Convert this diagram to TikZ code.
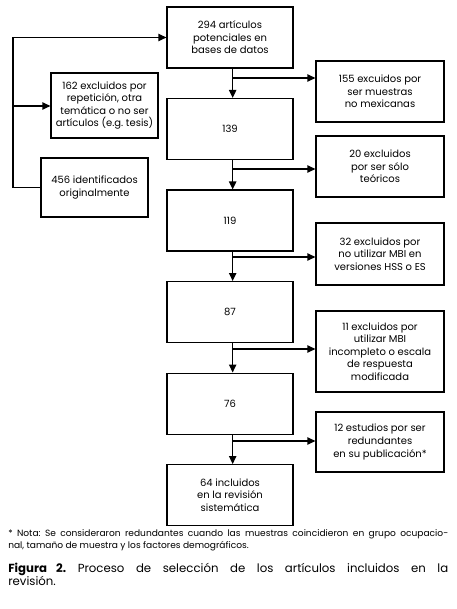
\documentclass[tikz,border=0pt]{standalone}
\usepackage{fontspec}
\setmainfont{Poppins}
\usetikzlibrary{arrows.meta,positioning}
\frenchspacing

\begin{document}
\begin{tikzpicture}[
  x=0.75pt,y=-0.75pt,
  node distance=22pt and 20pt,
  box/.style={draw,line width=0.9pt,minimum width=94.5pt,minimum height=45.75pt,align=center,font=\fontsize{7.5}{9.4}\selectfont,inner sep=2pt},
  side/.style={box,minimum width=96pt},
  lbox/.style={box,minimum width=80.25pt},
  arr/.style={-{Triangle[length=6pt,width=5.5pt]},line width=0.9pt},
  note/.style={anchor=north west,inner sep=0pt,text width=330pt,align=justify}]
  \useasboundingbox (0,0) rectangle (456,609);
  % main column
  \node[box] (n294) at (230,37.5) {294 artículos\\potenciales en\\bases de datos};
  \node[box,below=of n294] (n139) {139};
  \node[box,below=of n139] (n119) {119};
  \node[box,below=of n119] (n87) {87};
  \node[box,below=of n87] (n76) {76};
  \node[box,below=of n76] (n64) {64 incluidos\\en la revisión\\sistemática};
  % excluded
  \node[side] (r155) at (380,91.5) {155 excuidos por\\ser muestras\\no mexicanas};
  \node[side] (r20) at (380,166.5) {20 excluidos\\por ser sólo\\teóricos};
  \node[side,minimum height=46.5pt] (r32) at (380,254) {32 excluidos por\\no utilizar MBI en\\versiones HSS o ES};
  \node[side,minimum height=60.75pt] (r11) at (380,351.5) {11 excluidos por\\utilizar MBI\\incompleto o escala\\de respuesta\\modificada};
  \node[side,minimum height=45pt] (r12) at (380,442) {12 estudios por ser\\redundantes\\en su publicación*};
  \node[lbox,minimum height=48.75pt] (l162) at (104.5,105.5) {162 excluidos por\\repetición, otra\\temática o no ser\\artículos (e.g. tesis)};
  \node[lbox,minimum height=44.25pt] (l456) at (94.5,187.5) {456 identificados\\originalmente};
  % junctions
  \coordinate (j1) at (233,78);
  \coordinate (j2) at (233,169);
  \coordinate (j3) at (233,257);
  \coordinate (j4) at (233,349);
  \coordinate (j5) at (233,441);
  \coordinate (lt) at (13,37.5);
  \coordinate (lm) at (13,106);
  % connectors
  \draw[arr] ([xshift=2pt]n294.south) -- ([xshift=2pt]n139.north);
  \draw[arr] ([xshift=2pt]n139.south) -- ([xshift=2pt]n119.north);
  \draw[arr] ([xshift=2pt]n119.south) -- ([xshift=2pt]n87.north);
  \draw[arr] ([xshift=2pt]n87.south) -- ([xshift=2pt]n76.north);
  \draw[arr] ([xshift=2pt]n76.south) -- ([xshift=2pt]n64.north);
  \draw[arr] (j1) -- (j1 -| r155.west);
  \draw[arr] (j2) -- (j2 -| r20.west);
  \draw[arr] (j3) -- (j3 -| r32.west);
  \draw[arr] (j4) -- (j4 -| r11.west);
  \draw[arr] (j5) -- (j5 -| r12.west);
  \draw[arr] (l456.west) -| (lt) -- (lt -| n294.west);
  \draw[arr] (lm) -- (lm -| l162.west);
  % footnote and caption
  \node[note,font=\fontsize{6.8}{9}\selectfont] (nota) at (8,529) {* Nota: Se consideraron redundantes cuando las muestras coincidieron en grupo ocupacio-\linebreak nal, tamaño de muestra y los factores demográficos.};
  \node[note,font=\fontsize{8.8}{9.8}\selectfont] (fig) at (8,563) {\textbf{Figura 2.} Proceso de selección de los artículos incluidos en la\linebreak revisión.};
\end{tikzpicture}
\end{document}
